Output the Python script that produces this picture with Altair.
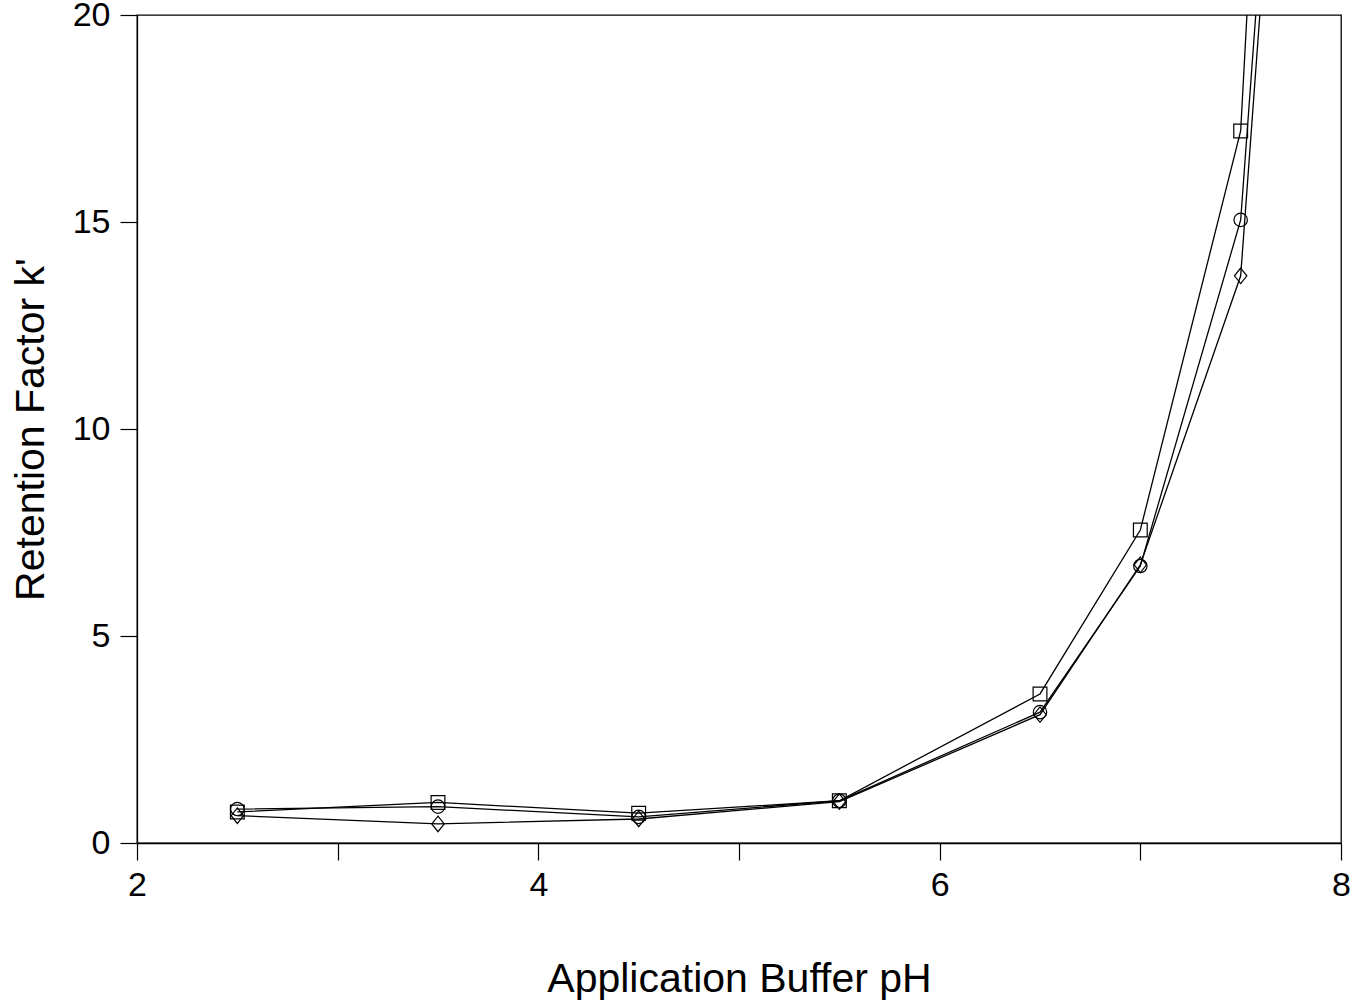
import altair as alt
import pandas as pd

ph = [2.5, 3.5, 4.5, 5.5, 6.5, 7.0, 7.5, 8.0]
k_square = [0.75, 0.98, 0.72, 1.02, 3.6, 7.56, 17.2, 62.0]
k_circle = [0.82, 0.88, 0.63, 1.02, 3.16, 6.69, 15.05, 48.0]
k_diamond = [0.66, 0.46, 0.58, 1.0, 3.1, 6.72, 13.7, 46.7]

series_names = ["square", "circle", "diamond"]
series_vals = [k_square, k_circle, k_diamond]

rows = []
for name, vals in zip(series_names, series_vals):
    for x, y in zip(ph, vals):
        rows.append({"pH": x, "k": y, "series": name})
df = pd.DataFrame(rows)

diamond_path = "M0,-1L0.8,0L0,1L-0.8,0Z"

xenc = alt.X("pH:Q", scale=alt.Scale(domain=[2, 8], nice=False),
             axis=alt.Axis(values=[2, 3, 4, 5, 6, 7, 8], format="d",
                           labelExpr="datum.value % 2 == 0 ? datum.label : ''",
                           title="Application Buffer pH", grid=False, labelFlush=False,
                           titleY=148, titleBaseline="alphabetic"))
yenc = alt.Y("k:Q", scale=alt.Scale(domain=[0, 20], nice=False),
             axis=alt.Axis(values=[0, 5, 10, 15, 20], format="d", title="Retention Factor k'",
                           grid=False, labelFlush=False,
                           titleX=-106, titleY=414, titleBaseline="middle", titleAlign="center"))

lines = alt.Chart(df).mark_line(clip=True, color="black", strokeWidth=1.3).encode(
    x=xenc, y=yenc, detail="series:N"
)

pts = alt.Chart(df).transform_filter("datum.pH < 7.9").mark_point(
    clip=True, color="black", filled=False, strokeWidth=1.2, opacity=1
).encode(
    x="pH:Q", y="k:Q",
    shape=alt.Shape("series:N", scale=alt.Scale(domain=series_names,
                                                 range=["square", "circle", diamond_path]), legend=None),
    size=alt.Size("series:N", scale=alt.Scale(type="ordinal", domain=series_names,
                                               range=[190, 180, 240]), legend=None),
)

chart = alt.layer(lines, pts).properties(
    width=1204, height=828,
    autosize=alt.AutoSizeParams(type="none"),
    padding={"left": 137, "top": 15, "right": 22, "bottom": 159},
).configure_view(stroke="black", strokeWidth=1.3).configure_axis(
    domainColor="black", tickColor="black", labelColor="black", titleColor="black",
    labelFont="Liberation Sans", titleFont="Liberation Sans",
    labelFontSize=34, titleFontSize=41, titleFontWeight="normal",
    tickSize=17, domainWidth=1.3, tickWidth=1.2,
).configure_axisX(labelPadding=8).configure_axisY(labelPadding=10)

chart.save("out.html", embed_options={"renderer": "svg", "actions": False})
